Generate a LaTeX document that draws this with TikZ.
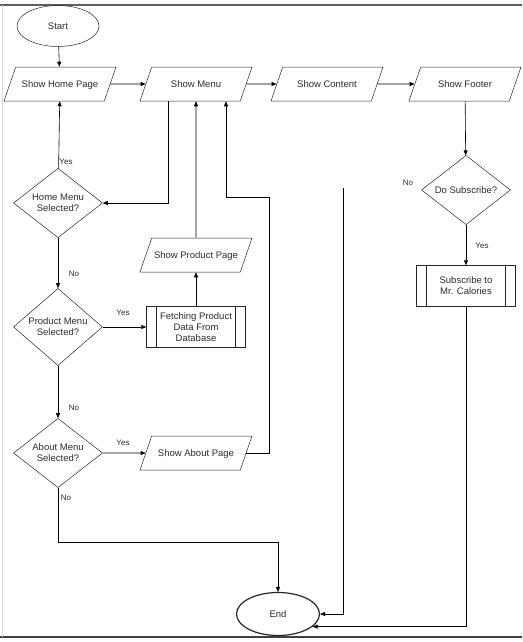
\documentclass[tikz,border=0pt]{standalone}
\usepackage{fontspec}
\setmainfont{Liberation Sans}
\usetikzlibrary{arrows.meta,shapes.geometric,calc}
\definecolor{inkc}{HTML}{2B2B2B}
\definecolor{framec}{HTML}{5E5E5E}

\tikzset{
  flow/.style={draw=black!85, line width=0.5pt, text=inkc, align=center, inner sep=0pt,
    font=\fontsize{9.5}{11}\selectfont},
  io/.style={flow, trapezium, trapezium left angle=71, trapezium right angle=109,
    trapezium stretches body=true, text height=8pt, text depth=1pt,
    inner xsep=2pt, inner ysep=12.5pt, minimum width=112pt},
  decision/.style={flow, diamond, minimum width=89pt, minimum height=67pt},
  terminal/.style={flow, ellipse, minimum width=82pt, minimum height=41pt},
  process/.style={flow, rectangle, minimum width=99pt, minimum height=41pt,
    path picture={\draw[black!85]
      ([xshift=10pt]path picture bounding box.north west) -- ([xshift=10pt]path picture bounding box.south west)
      ([xshift=-10pt]path picture bounding box.north east) -- ([xshift=-10pt]path picture bounding box.south east);}},
  lbl/.style={text=inkc, inner sep=0pt, font=\fontsize{8}{9}\selectfont},
  conn/.style={draw=black, line width=0.6pt, -{Triangle[length=5pt,width=4pt]}}
}

\begin{document}
\begin{tikzpicture}[x=1pt, y=-1pt]
  \useasboundingbox (0,0) rectangle (522,642);
  \draw[framec, line width=1.5pt] (0,5) -- (522,5);
  \draw[black!75, line width=1.5pt] (0,637) -- (522,637);
  \draw[black!15] (2.5,5) -- (2.5,637);

  \node[terminal] (start) at (58,26) {Start};
  \node[io] (homepage) at (60,84) {Show Home Page};
  \node[io] (menu) at (196,84) {Show Menu};
  \node[io] (content) at (327,84) {Show Content};
  \node[io] (footer) at (465,84) {Show Footer};

  \node[decision] (homesel) at (58,203) {Home Menu\\Selected?};
  \node[decision] (prodsel) at (58,327) {Product Menu\\Selected?};
  \node[decision] (aboutsel) at (58,453) {About Menu\\Selected?};
  \node[process] (fetch) at (196,327) {Fetching Product\\Data From\\Database};
  \node[io] (prodpage) at (196,255) {Show Product Page};
  \node[io] (aboutpage) at (196,453) {Show About Page};

  \node[decision] (subsel) at (466,190) {Do Subscribe?};
  \node[process] (subscribe) at (466,286) {Subscribe to\\Mr. Calories};
  \node[terminal, line width=1.2pt, minimum width=83pt, minimum height=43pt] (stop) at (278,614) {End};

  \node[lbl] (yeshome) at (66,162) {Yes};
  \node[lbl] (nohome) at (74,274) {No};
  \node[lbl] (yesprod) at (123,313) {Yes};
  \node[lbl] (noprod) at (74,408) {No};
  \node[lbl] (yesabout) at (123,443) {Yes};
  \node[lbl] (noabout) at (66,498) {No};
  \node[lbl] (nosub) at (408,183) {No};
  \node[lbl] (yessub) at (482,246) {Yes};

  \coordinate (aboutturn) at (269,197);
  \coordinate (contentend) at (343,188);

  \draw[conn] (start) -- (homepage);
  \draw[conn] (homepage) -- (menu);
  \draw[conn] (menu) -- (content);
  \draw[conn] (content) -- (footer);
  \draw[conn] (footer) -- (subsel);
  \draw[conn] (subsel) -- (subscribe);
  \draw[conn] (subscribe.south) |- (stop.-20);
  \draw[conn] (contentend) |- (stop.east);
  \draw[conn] ([xshift=-28pt]menu.south) |- (homesel.east);
  \draw[conn] (homesel) -- (homepage);
  \draw[conn] (homesel) -- (prodsel);
  \draw[conn] (prodsel) -- (fetch);
  \draw[conn] (fetch) -- (prodpage);
  \draw[conn] (prodpage) -- (menu);
  \draw[conn] (prodsel) -- (aboutsel);
  \draw[conn] (aboutsel) -- (aboutpage);
  \draw[conn] (aboutpage.east) -| (aboutturn) -| ([xshift=30pt]menu.south);
  \draw[conn] (aboutsel.south) -- ++(0,54) -| (stop.north);
\end{tikzpicture}
\end{document}
